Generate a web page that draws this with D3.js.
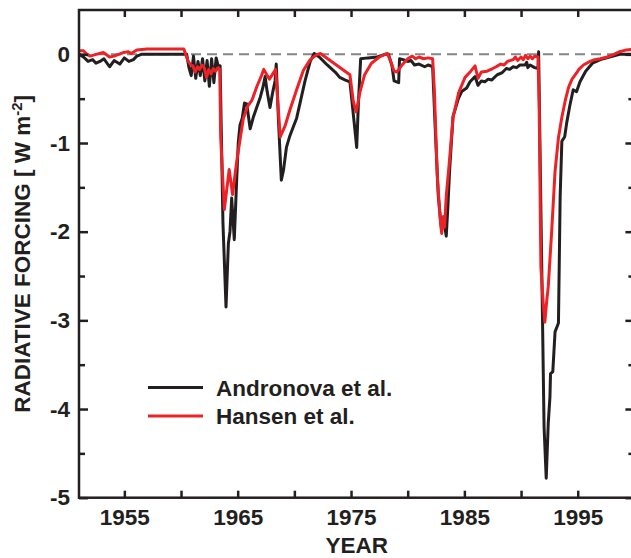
<!DOCTYPE html>
<html>
<head>
<meta charset="utf-8">
<script src="https://cdn.jsdelivr.net/npm/d3@7"></script>
<style>
  html, body { margin: 0; padding: 0; background: #fff; }
  svg { display: block; }
  text { font-family: "Liberation Sans", Arial, Helvetica, sans-serif; font-weight: bold; fill: #231f20; }
</style>
</head>
<body>
<svg id="chart" width="631" height="558"></svg>
<script>
// ---- data ----
const seriesNames = ["Andronova et al.", "Hansen et al."];
const seriesColors = ["#231f20", "#ec2227"];

const andronova = [
  [1951.0, 0.0], [1951.4, -0.03], [1951.8, -0.08], [1952.2, -0.06], [1952.5, -0.10],
  [1952.85, -0.08], [1953.2, -0.05], [1953.7, -0.14], [1954.1, -0.07], [1954.6, -0.11],
  [1955.0, -0.04], [1955.4, -0.08], [1955.8, -0.06], [1956.1, -0.02], [1956.5, 0.0],
  [1960.5, 0.0], [1960.7, -0.15], [1960.9, -0.24], [1961.1, -0.02], [1961.3, -0.27],
  [1961.5, -0.08], [1961.7, -0.24], [1961.9, -0.05], [1962.1, -0.30], [1962.3, -0.07],
  [1962.5, -0.36], [1962.7, -0.05], [1962.9, -0.32], [1963.1, -0.04], [1963.3, -0.14],
  [1963.45, -0.13], [1963.7, -1.9], [1963.97, -2.85], [1964.18, -2.13], [1964.32, -2.0],
  [1964.47, -1.62], [1964.7, -2.09], [1964.9, -1.45], [1965.05, -1.0], [1965.2, -0.80],
  [1965.4, -0.72], [1965.6, -0.55], [1965.8, -0.56], [1966.1, -0.84], [1966.4, -0.70],
  [1966.7, -0.59], [1967.0, -0.48], [1967.25, -0.36], [1967.42, -0.25], [1967.6, -0.42],
  [1967.85, -0.60], [1968.1, -0.42], [1968.3, -0.30], [1968.4, -0.11], [1968.6, -0.75],
  [1968.85, -1.42], [1969.05, -1.30], [1969.3, -1.05], [1969.6, -0.92], [1969.9, -0.82],
  [1970.2, -0.72], [1970.5, -0.55], [1970.94, -0.30], [1971.4, -0.08], [1971.75, 0.01],
  [1972.2, -0.03], [1972.9, -0.12], [1973.6, -0.20], [1974.0, -0.26], [1974.5, -0.29],
  [1974.9, -0.31], [1975.1, -0.55], [1975.5, -1.05], [1975.65, -0.55], [1975.85, -0.05],
  [1976.5, -0.04], [1977.3, -0.03], [1978.0, 0.0], [1978.3, 0.0], [1978.6, -0.12],
  [1978.8, -0.30], [1979.2, -0.32], [1979.28, -0.05], [1979.6, -0.06], [1980.0, -0.08],
  [1980.3, -0.07], [1980.6, -0.12], [1981.0, -0.11], [1981.5, -0.14], [1981.8, -0.12],
  [1982.2, -0.14], [1982.45, -0.9], [1982.7, -1.6], [1982.97, -1.96], [1983.15, -1.85],
  [1983.4, -2.05], [1983.55, -1.7], [1983.7, -1.3], [1984.0, -0.7], [1984.47, -0.50],
  [1984.76, -0.42], [1985.2, -0.38], [1985.5, -0.31], [1985.94, -0.25], [1986.2, -0.35],
  [1986.5, -0.30], [1986.8, -0.31], [1987.1, -0.28], [1987.4, -0.29], [1987.9, -0.23],
  [1988.3, -0.21], [1988.7, -0.16], [1989.0, -0.17], [1989.3, -0.14], [1989.6, -0.15],
  [1989.9, -0.12], [1990.35, -0.12], [1990.5, -0.09], [1990.6, -0.15], [1990.8, -0.12],
  [1991.2, -0.15], [1991.5, -0.16], [1991.55, 0.03], [1992.03, -4.2], [1992.22, -4.78],
  [1992.4, -4.16], [1992.55, -3.86], [1992.6, -3.6], [1992.8, -3.58], [1993.0, -3.13],
  [1993.3, -3.03], [1993.45, -1.6], [1993.6, -0.98], [1993.85, -0.93], [1994.03, -0.77],
  [1994.3, -0.58], [1994.6, -0.40], [1994.9, -0.42], [1995.2, -0.31], [1995.7, -0.19],
  [1996.3, -0.10], [1997.0, -0.06], [1997.8, -0.03], [1998.7, 0.0], [2000.0, 0.0]
];

const hansen = [
  [1951.0, 0.04], [1951.4, 0.04], [1951.7, 0.0], [1952.0, -0.02], [1952.5, 0.0],
  [1953.15, 0.02], [1953.7, -0.03], [1954.1, -0.02], [1954.9, 0.02], [1955.35, 0.03],
  [1955.6, 0.01], [1956.1, 0.05], [1957.0, 0.06], [1960.25, 0.06], [1960.6, -0.07],
  [1960.85, -0.12], [1961.05, -0.13], [1961.25, -0.20], [1961.45, -0.14], [1961.65, -0.17],
  [1961.85, -0.12], [1962.05, -0.15], [1962.25, -0.26], [1962.45, -0.17], [1962.65, -0.22],
  [1962.85, -0.16], [1963.05, -0.19], [1963.3, -0.15], [1963.42, -0.17], [1963.5, -0.93],
  [1963.82, -1.75], [1964.25, -1.30], [1964.55, -1.58], [1964.9, -1.22], [1965.2, -0.97],
  [1965.5, -0.72], [1965.9, -0.58], [1966.25, -0.52], [1966.7, -0.36], [1967.1, -0.24],
  [1967.3, -0.17], [1967.8, -0.28], [1968.35, -0.17], [1968.75, -0.93], [1969.2, -0.80],
  [1969.6, -0.63], [1970.2, -0.40], [1970.8, -0.18], [1971.4, -0.06], [1971.9, -0.01],
  [1972.3, 0.01], [1974.9, -0.23], [1975.2, -0.53], [1975.45, -0.65], [1975.8, -0.42],
  [1976.2, -0.23], [1976.8, -0.10], [1977.5, -0.03], [1978.2, 0.01], [1978.5, -0.08],
  [1978.8, -0.19], [1979.05, -0.20], [1979.5, -0.12], [1980.0, -0.05], [1980.4, -0.02],
  [1980.7, -0.05], [1981.0, -0.03], [1981.4, -0.05], [1981.8, -0.04], [1982.2, -0.05],
  [1982.35, -0.4], [1982.6, -1.35], [1982.86, -1.85], [1983.0, -2.02], [1983.15, -1.83],
  [1983.25, -1.95], [1983.4, -1.6], [1983.65, -1.25], [1984.0, -0.71], [1984.5, -0.43],
  [1985.06, -0.26], [1985.5, -0.20], [1985.94, -0.13], [1986.2, -0.27], [1986.5, -0.20],
  [1987.0, -0.19], [1987.5, -0.16], [1987.8, -0.14], [1988.2, -0.11], [1988.5, -0.12],
  [1988.8, -0.08], [1989.3, -0.06], [1989.5, -0.03], [1989.7, -0.07], [1990.0, -0.03],
  [1990.2, -0.06], [1990.4, -0.01], [1990.6, -0.05], [1990.8, -0.02], [1991.0, -0.05],
  [1991.2, -0.02], [1991.5, -0.03], [1991.6, -0.6], [1991.75, -2.4], [1991.95, -2.8],
  [1992.1, -3.02], [1992.25, -2.8], [1992.4, -2.62], [1992.7, -2.0], [1993.0, -1.32],
  [1993.3, -0.94], [1993.6, -0.71], [1993.9, -0.52], [1994.2, -0.37], [1994.5, -0.28],
  [1994.9, -0.21], [1995.1, -0.17], [1995.5, -0.12], [1996.1, -0.08], [1996.5, -0.06],
  [1997.0, -0.05], [1997.6, -0.03], [1998.2, 0.0], [1998.7, 0.03], [1999.3, 0.05],
  [2000.0, 0.06]
];

const xDomain = [1951, 2000];
const yDomain = [-5, 0.5];
const xTickValues = [1955, 1960, 1965, 1970, 1975, 1980, 1985, 1990, 1995];
const xTickLabels = ["1955", "", "1965", "", "1975", "", "1985", "", "1995"];
const yTickValues = [0, -1, -2, -3, -4, -5];
const yMinorTicks = [-0.5, -1.5, -2.5, -3.5, -4.5];
const yLabelMain = "RADIATIVE FORCING [ W m";
const yLabelSup = "-2";
const yLabelEnd = "]";
const xLabel = "YEAR";

// ---- layout ----
const svg = d3.select("#chart");
const L = 79, R = 634.4, T = 10, B = 497.7;
const ink = "#231f20";
const fs = "22.5px";

const x = d3.scaleLinear().domain(xDomain).range([L, R]);
const y = d3.scaleLinear().domain(yDomain).range([B, T]);

// zero reference dashed line
svg.append("line")
  .attr("x1", x(xDomain[0])).attr("x2", x(xDomain[1]))
  .attr("y1", y(0)).attr("y2", y(0))
  .attr("stroke", "#858585").attr("stroke-width", 2)
  .attr("stroke-dasharray", "10,6");

// series lines
const line = d3.line().x(d => x(d[0])).y(d => y(d[1]));
[andronova, hansen].forEach((s, i) => {
  svg.append("path")
    .datum(s)
    .attr("d", line)
    .attr("fill", "none")
    .attr("stroke", seriesColors[i])
    .attr("stroke-width", 3)
    .attr("stroke-linejoin", "round")
    .attr("stroke-linecap", "butt");
});

// axes (ticks pointing inward)
const fmtX = (d, i) => xTickLabels[i];
const gBottom = svg.append("g").attr("transform", `translate(0,${B})`)
  .call(d3.axisBottom(x).tickValues(xTickValues).tickFormat(fmtX).tickSizeInner(-7).tickSizeOuter(0).tickPadding(11));
const gTop = svg.append("g").attr("transform", `translate(0,${T})`)
  .call(d3.axisTop(x).tickValues(xTickValues).tickFormat("").tickSizeInner(-7).tickSizeOuter(0));
const gLeft = svg.append("g").attr("transform", `translate(${L},0)`)
  .call(d3.axisLeft(y).tickValues(yTickValues).tickFormat(d3.format("d")).tickSizeInner(-9).tickSizeOuter(0).tickPadding(9));
const gLeftMinor = svg.append("g").attr("transform", `translate(${L},0)`)
  .call(d3.axisLeft(y).tickValues(yMinorTicks).tickFormat("").tickSizeInner(-6).tickSizeOuter(0));
const gRight = svg.append("g").attr("transform", `translate(${R},0)`)
  .call(d3.axisRight(y).tickValues(yTickValues).tickFormat("").tickSizeInner(-9).tickSizeOuter(0));
const gRightMinor = svg.append("g").attr("transform", `translate(${R},0)`)
  .call(d3.axisRight(y).tickValues(yMinorTicks).tickFormat("").tickSizeInner(-6).tickSizeOuter(0));

[gBottom, gTop, gLeft, gLeftMinor, gRight, gRightMinor].forEach(g => {
  g.select(".domain").remove();
  g.selectAll(".tick line").attr("stroke", ink).attr("stroke-width", 2.5);
  g.selectAll(".tick text")
    .style("font-family", '"Liberation Sans", Arial, sans-serif')
    .style("font-weight", "bold").style("font-size", fs).attr("fill", ink);
});
gLeft.selectAll(".tick text").text(d => d === 0 ? "0" : "-" + Math.abs(d));

// frame
svg.append("rect")
  .attr("x", L).attr("y", T).attr("width", R - L).attr("height", B - T)
  .attr("fill", "none").attr("stroke", ink).attr("stroke-width", 2.5);

// axis titles
svg.append("text")
  .attr("x", (L + R) / 2).attr("y", 553)
  .attr("text-anchor", "middle").style("font-size", fs)
  .text(xLabel);

const yt = svg.append("text")
  .attr("transform", `translate(30,${(T + B) / 2}) rotate(-90)`)
  .attr("text-anchor", "middle").style("font-size", fs);
yt.append("tspan").text(yLabelMain);
yt.append("tspan").attr("dy", -8).style("font-size", "15px").text(yLabelSup);
yt.append("tspan").attr("dy", 8).text(yLabelEnd);

// legend
const legY = [387.5, 416];
seriesNames.forEach((name, i) => {
  svg.append("line")
    .attr("x1", 148).attr("x2", 203)
    .attr("y1", legY[i]).attr("y2", legY[i])
    .attr("stroke", seriesColors[i]).attr("stroke-width", 3);
  svg.append("text")
    .attr("x", 216).attr("y", legY[i] + 8)
    .style("font-size", fs)
    .text(name);
});
</script>
</body>
</html>
